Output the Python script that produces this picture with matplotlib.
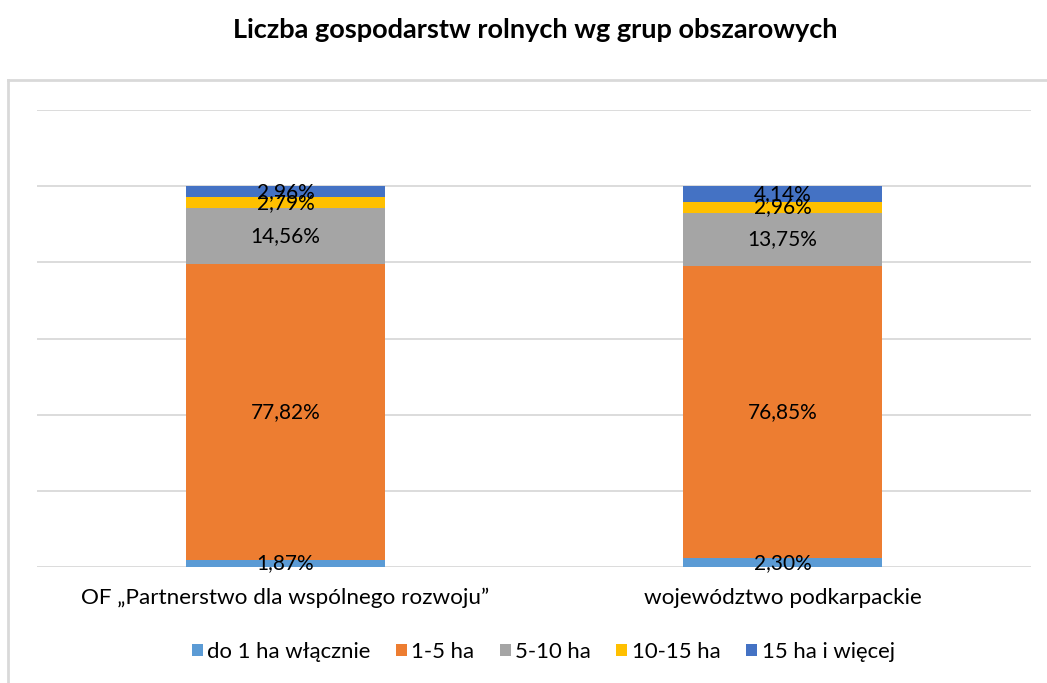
import numpy as np
import matplotlib.pyplot as plt
from matplotlib.lines import Line2D

plt.rcParams['font.family'] = ['Lato', 'DejaVu Sans']

categories = ['OF \u201ePartnerstwo dla wsp\u00f3lnego rozwoju\u201d', 'wojew\u00f3dztwo podkarpackie']
series_names = ['do 1 ha w\u0142\u0105cznie', '1-5 ha', '5-10 ha', '10-15 ha', '15 ha i wi\u0119cej']
do_1 = [1.87, 2.30]
ha_1_5 = [77.82, 76.85]
ha_5_10 = [14.56, 13.75]
ha_10_15 = [2.79, 2.96]
ha_15_plus = [2.96, 4.14]
colors = ['#5B9BD5', '#ED7D31', '#A5A5A5', '#FFC000', '#4472C4']

series = [do_1, ha_1_5, ha_5_10, ha_10_15, ha_15_plus]

fig = plt.figure(figsize=(10.47, 6.83), dpi=100)
ax = fig.add_axes([37/1047, 1 - 567/683, (1031 - 37)/1047, (567 - 110)/683])

x = np.arange(len(categories))
bottom = np.zeros(len(categories))
for vals, name, col in zip(series, series_names, colors):
    vals = np.array(vals)
    ax.bar(x, vals, 0.4, bottom=bottom, color=col, label=name, zorder=2)
    for xi, b, v in zip(x, bottom, vals):
        ax.text(xi, b + v / 2, f'{v:.2f}%'.replace('.', ','), ha='center', va='center',
                fontsize=15, color='black', zorder=3)
    bottom += vals

ax.set_xlim(-0.5, 1.5)
ax.set_ylim(0, 120)
ax.set_yticks(np.arange(0, 121, 20))
ax.yaxis.grid(True, color='#D9D9D9', linewidth=1.3, zorder=0)
ax.set_yticklabels([])
ax.tick_params(axis='y', length=0)
ax.tick_params(axis='x', length=0, pad=15)
ax.set_xticks(x)
ax.set_xticklabels(categories, fontsize=16.2)
for s in ax.spines.values():
    s.set_visible(False)

fig.text(535/1047, 1 - 30/683, 'Liczba gospodarstw rolnych wg grup obszarowych',
         ha='center', va='center', fontsize=19.5, fontweight='bold')

# chart frame
fig.add_artist(Line2D([8/1047, 1.0], [1 - 80/683, 1 - 80/683], color='#D9D9D9', linewidth=2))
fig.add_artist(Line2D([8/1047, 8/1047], [0, 1 - 80/683], color='#D9D9D9', linewidth=2))

handles, labels = ax.get_legend_handles_labels()
fig.legend(handles, labels, loc='center', bbox_to_anchor=(543/1047, 1 - 652/683), ncol=5,
           frameon=False, fontsize=15.9, handlelength=0.5, handleheight=0.5,
           handletextpad=0.2, columnspacing=1.15)

fig.savefig('out.png', dpi=100)
